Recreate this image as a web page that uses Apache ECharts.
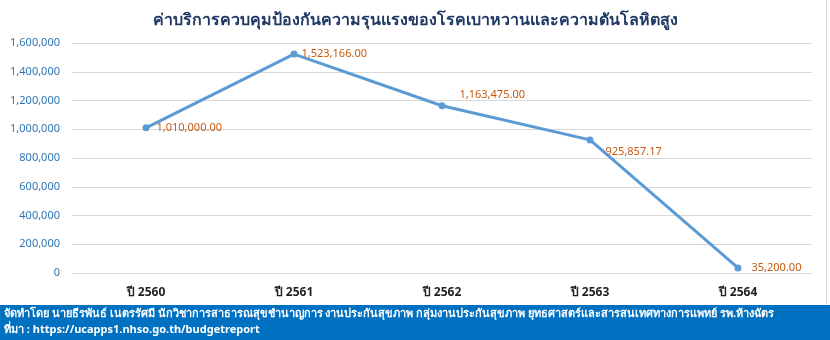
<!DOCTYPE html>
<html><head><meta charset="utf-8">
<script src="https://cdn.jsdelivr.net/npm/echarts@6/dist/echarts.min.js"></script>
<style>html,body{margin:0;padding:0;background:#fff}#c{width:830px;height:340px}</style>
</head><body><div id="c"></div>
<script>
var categories = ['ปี 2560','ปี 2561','ปี 2562','ปี 2563','ปี 2564'];
var values = [1010000.00, 1523166.00, 1163475.00, 925857.17, 35200.00];
var yTicks = [0, 200000, 400000, 600000, 800000, 1000000, 1200000, 1400000, 1600000];
var titleText = 'ค่าบริการควบคุมป้องกันความรุนแรงของโรคเบาหวานและความดันโลหิตสูง';
var footer1 = 'จัดทำโดย นายธีรพันธ์ เนตรรัศมี นักวิชาการสาธารณสุขชำนาญการ งานประกันสุขภาพ กลุ่มงานประกันสุขภาพ ยุทธศาสตร์และสารสนเทศทางการแพทย์ รพ.ห้างฉัตร';
var footer2 = 'ที่มา : https://ucapps1.nhso.go.th/budgetreport';
var labelOffsets = [[3,0],[0,0],[10,-11],[8,12],[6,0]];

var chart = echarts.init(document.getElementById('c'));
function fmt(v){return v.toLocaleString('en-US');}
function fmt2(v){return v.toLocaleString('en-US',{minimumFractionDigits:2,maximumFractionDigits:2});}
var seriesData = values.map(function(v,i){return {value:v,label:{offset:labelOffsets[i]}};});
chart.setOption({
  animation:false,
  title:{text:titleText,left:'center',top:7,textStyle:{fontFamily:'Noto Sans, sans-serif',fontSize:16,fontWeight:'bold',color:'#1F3864'}},
  grid:{left:72,right:18,top:43,bottom:67},
  xAxis:{type:'category',data:categories,boundaryGap:true,
    axisLine:{show:false},axisTick:{show:false},
    axisLabel:{margin:14,fontFamily:'Noto Sans, sans-serif',fontSize:12,fontWeight:'bold',color:'#1F1F1F'}},
  yAxis:{type:'value',min:yTicks[0],max:yTicks[yTicks.length-1],interval:200000,
    axisLine:{show:false},axisTick:{show:false},
    splitLine:{lineStyle:{color:'#D9D9D9',width:1}},
    axisLabel:{margin:12,formatter:function(v){return fmt(v);},fontFamily:'Noto Sans, sans-serif',fontSize:11,color:'#2E75B6'}},
  series:[{type:'line',data:seriesData,symbol:'circle',symbolSize:7,
    lineStyle:{color:'#5B9BD5',width:3},itemStyle:{color:'#5B9BD5'},
    label:{show:true,position:'right',distance:4,formatter:function(p){return fmt2(p.value);},
      fontFamily:'Noto Sans, sans-serif',fontSize:11,color:'#C55A11'}}],
  graphic:[
    {type:'rect',shape:{x:0,y:305,width:830,height:35},style:{fill:'#0070C0'},z:-1},
    {type:'rect',shape:{x:826,y:0,width:1,height:305},style:{fill:'#D9D9D9'}},
    {type:'text',left:4,top:308,style:{text:footer1,fill:'#fff',font:'bold 11px "Noto Sans", sans-serif'}},
    {type:'text',left:4,top:324,style:{text:footer2,fill:'#fff',font:'bold 11px "Noto Sans", sans-serif'}}
  ]
});
</script></body></html>
